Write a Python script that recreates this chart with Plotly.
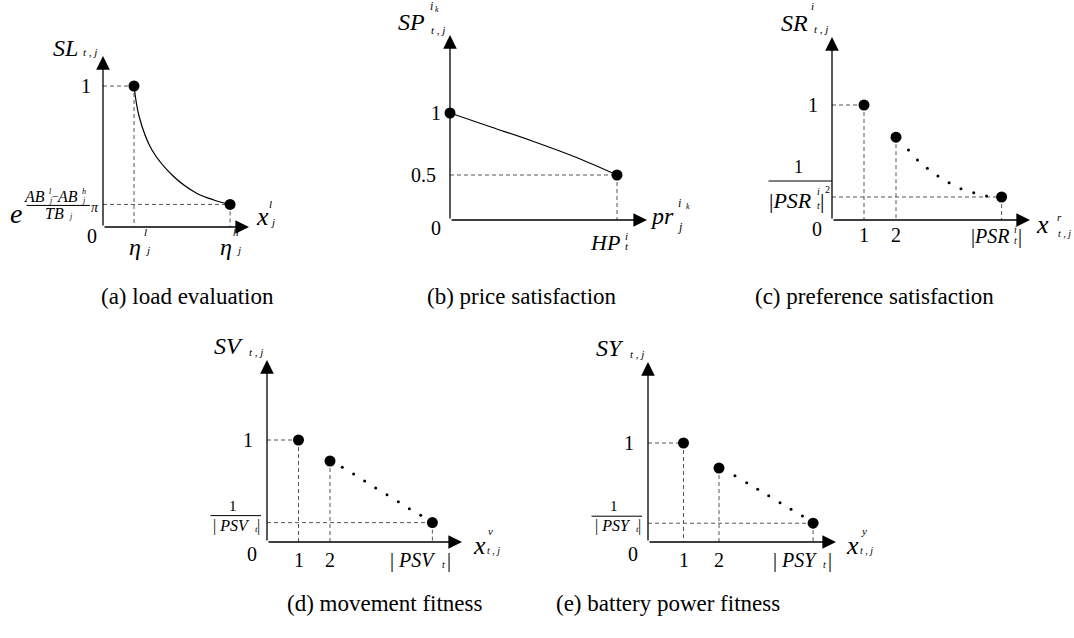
import plotly.graph_objects as go

W, H = 1074, 638
FONT = "'Liberation Serif', 'Times New Roman', Times, serif"

# ---------------- (a) load evaluation ----------------
load_eta = [1.0, 4.1]                       # eta_j^l , eta_j^h
load_sl = [1.0, 0.16]                       # SL at the two end points
load_curve_x = [1.0, 1.17, 1.57, 2.27, 3.02, 3.6, 4.1]
load_curve_y = [1.0, 0.78, 0.55, 0.36, 0.24, 0.19, 0.16]

# ---------------- (b) price satisfaction ----------------
price_pr = [0.0, 1.0]                       # 0 and HP_t^i
price_sp = [1.0, 0.5]
price_curve_x = [0.0, 0.25, 0.5, 0.75, 1.0]
price_curve_y = [1.0, 0.885, 0.77, 0.645, 0.5]
price_ytext = ["1", "0.5"]

# ---------------- (c) preference satisfaction ----------------
pref_x = [1, 2, 5.3]
pref_y = [1.0, 0.72, 0.2]
pref_dots_x = [2.39, 2.67, 2.98, 3.31, 3.66, 4.03, 4.43, 4.83]
pref_dots_y = [0.609, 0.522, 0.449, 0.383, 0.325, 0.272, 0.238, 0.209]

# ---------------- (d) movement fitness ----------------
move_x = [1, 2, 5.25]
move_y = [1.0, 0.794, 0.19]
move_dots_x = [2.39, 2.75, 3.10, 3.45, 3.81, 4.17, 4.52, 4.88]
move_dots_y = [0.732, 0.667, 0.598, 0.529, 0.464, 0.395, 0.326, 0.262]

# ---------------- (e) battery power fitness ----------------
batt_x = [1, 2, 4.65]
batt_y = [1.0, 0.747, 0.19]
batt_dots_x = [2.45, 2.78, 3.09, 3.40, 3.72, 4.03, 4.35]
batt_dots_y = [0.670, 0.599, 0.532, 0.468, 0.397, 0.330, 0.263]

tick_text = ["1", "2"]
captions = ["(a) load evaluation", "(b) price satisfaction", "(c) preference satisfaction",
            "(d) movement fitness", "(e) battery power fitness"]
caption_px = [(187, 296), (522, 296), (875, 296), (385, 603), (668, 603)]

# panel frames: origin / arrow tips in pixels and pixels per data unit
panels = {
    "a": dict(sfx="",  ox=103, oy=227, ex=249,  ty=56,  ux=31.0,  uy=141.0, y0=0.0),
    "b": dict(sfx="2", ox=450, oy=220, ex=647,  ty=35,  ux=167.0, uy=124.0, y0=0.137),
    "c": dict(sfx="3", ox=832, oy=220, ex=1030, ty=37,  ux=32.0,  uy=115.0, y0=0.0),
    "d": dict(sfx="4", ox=267, oy=542, ex=462,  ty=360, ux=31.5,  uy=102.0, y0=0.0),
    "e": dict(sfx="5", ox=648, oy=542, ex=836,  ty=362, ux=35.5,  uy=99.0,  y0=0.0),
}

fig = go.Figure()

for p in panels.values():
    s = p["sfx"]
    xr = [0, (p["ex"] - p["ox"]) / p["ux"]]
    yr = [p["y0"], p["y0"] + (p["oy"] - p["ty"]) / p["uy"]]
    fig.update_layout({
        "xaxis" + s: dict(domain=[p["ox"] / W, p["ex"] / W], range=xr, anchor="y" + s,
                          visible=False, fixedrange=True),
        "yaxis" + s: dict(domain=[1 - p["oy"] / H, 1 - p["ty"] / H], range=yr, anchor="x" + s,
                          visible=False, fixedrange=True),
    })
    # axes drawn as arrows from the origin
    common = dict(xref=f"x{s} domain", yref=f"y{s} domain", text="", showarrow=True,
                  arrowhead=2, arrowsize=2.1, arrowwidth=1.3, arrowcolor="black",
                  axref="pixel", ayref="pixel")
    fig.add_annotation(x=1, y=0, ax=-(p["ex"] - p["ox"]), ay=0, **common)
    fig.add_annotation(x=0, y=1, ax=0, ay=(p["oy"] - p["ty"]), **common)


def axes_of(key):
    s = panels[key]["sfx"]
    return dict(xaxis="x" + s, yaxis="y" + s)


def line(key, xs, ys, dash=None, width=1.2, color="black", shape="linear"):
    fig.add_trace(go.Scatter(x=xs, y=ys, mode="lines", cliponaxis=False, hoverinfo="skip",
                             line=dict(color=color, width=width, dash=dash, shape=shape),
                             showlegend=False, **axes_of(key)))


def dots(key, xs, ys, size=11):
    fig.add_trace(go.Scatter(x=xs, y=ys, mode="markers", cliponaxis=False, hoverinfo="skip",
                             marker=dict(color="black", size=size), showlegend=False,
                             **axes_of(key)))


def guides(key, xs, ys, horiz, vert):
    y0 = panels[key]["y0"]
    for x, y, h, v in zip(xs, ys, horiz, vert):
        if h:
            line(key, [0, x], [y, y], dash="4px,3px", width=1, color="#555")
        if v:
            line(key, [x, x], [y, y0], dash="4px,3px", width=1, color="#555")


def put(key, x, y, text, size, xs=0, ys=0, anchor="center", xd=False, yd=False):
    s = panels[key]["sfx"]
    fig.add_annotation(x=x, y=y, xref=f"x{s}" + (" domain" if xd else ""),
                       yref=f"y{s}" + (" domain" if yd else ""), text=text, showarrow=False,
                       font=dict(family=FONT, size=size, color="black"),
                       xanchor=anchor, yanchor="middle", xshift=xs, yshift=ys)


def bar(key, x, y, x0, x1, dy):
    """Fraction bar: a plain arrow-less annotation line offset in pixels from (x, y)."""
    s = panels[key]["sfx"]
    fig.add_annotation(x=x, y=y, xref="x" + s, yref="y" + s, text="", showarrow=True,
                       arrowhead=0, arrowwidth=1, arrowcolor="black",
                       ax=-(x1 - x0), ay=0, axref="pixel", ayref="pixel",
                       xshift=x1, yshift=dy)


# ---------------- (a) ----------------
guides("a", load_eta, load_sl, [True, True], [True, True])
line("a", load_curve_x, load_curve_y, shape="spline")
dots("a", load_eta, load_sl)
put("a", 0, 1, "<i>SL</i>", 24, -23, 8, "right", True, True)
put("a", 0, 1, "<i>t</i> , <i>j</i>", 11, -22, 4, "left", True, True)
put("a", 0, load_sl[0], "1", 20, -17, 0)
put("a", 0, 0, "0", 20, -11, -9)
for x, sup, dx in zip(load_eta, ["l", "h"], [1, -4]):
    put("a", x, 0, "<i>η</i>", 24, dx, -20)
    put("a", x, 0, f"<i>{sup}</i>", 11, dx + 10, -5)
    put("a", x, 0, "<i>j</i>", 11, dx + 12, -23)
put("a", 1, 0, "<i>x</i>", 26, 13, 11, "center", True, True)
put("a", 1, 0, "<i>l</i>", 11, 21, 23, "center", True, True)
put("a", 1, 0, "<i>j</i>", 11, 23, 5, "center", True, True)
# e^{(AB_j^l - AB_j^h)/TB_j * pi}
ylow = load_sl[1]
put("a", 0, ylow, "<i>e</i>", 28, -87, -9)
put("a", 0, ylow, "<i>AB</i>", 16, -56, 8, "right")
put("a", 0, ylow, "<i>l</i>", 8, -56, 13, "left")
put("a", 0, ylow, "<i>j</i>", 8, -56, 4, "left")
put("a", 0, ylow, "−", 12, -48, 8)
put("a", 0, ylow, "<i>AB</i>", 16, -23, 8, "right")
put("a", 0, ylow, "<i>h</i>", 8, -23, 13, "left")
put("a", 0, ylow, "<i>j</i>", 8, -23, 4, "left")
bar("a", 0, ylow, -78, -13, -1)
put("a", 0, ylow, "<i>TB</i>", 16, -37, -9, "right")
put("a", 0, ylow, "<i>j</i>", 8, -36, -12, "left")
put("a", 0, ylow, "<i>π</i>", 14, -8, -3)

# ---------------- (b) ----------------
guides("b", price_pr[1:], price_sp[1:], [True], [True])
line("b", price_curve_x, price_curve_y, shape="spline")
dots("b", price_pr, price_sp)
put("b", 0, 1, "<i>SP</i>", 24, -23, 13, "right", True, True)
put("b", 0, 1, "<i>i</i>", 12, -19, 29, "center", True, True)
put("b", 0, 1, "<i>k</i>", 8, -13, 26, "center", True, True)
put("b", 0, 1, "<i>t</i> , <i>j</i>", 11, -21, 5, "left", True, True)
put("b", 0, price_sp[0], price_ytext[0], 20, -14, 0)
put("b", 0, price_sp[1], price_ytext[1], 20, -27, 0)
put("b", 0, 0, "0", 20, -14, -8, "center", False, True)
put("b", price_pr[1], 0, "<i>HP</i>", 22, 5, -22, "right", False, True)
put("b", price_pr[1], 0, "<i>i</i>", 11, 6, -16, "left", False, True)
put("b", price_pr[1], 0, "<i>t</i>", 11, 6, -26, "left", False, True)
put("b", 1, 0, "<i>pr</i>", 24, 29, 4, "right", True, True)
put("b", 1, 0, "<i>i</i>", 12, 29, 17, "left", True, True)
put("b", 1, 0, "<i>k</i>", 8, 41, 14, "center", True, True)
put("b", 1, 0, "<i>j</i>", 12, 33, -7, "center", True, True)


# ---------------- (c), (d), (e): discrete scores ----------------
def discrete(key, xs, ys, dx, dy, name, tick_dy):
    guides(key, xs, ys, [True, False, True], [True, True, True])
    dots(key, dx, dy, size=3)
    dots(key, xs, ys)
    put(key, 0, 1, f"<i>{name}</i>", 24, -22, 14, "right", True, True)
    put(key, 0, 1, "<i>t</i> , <i>j</i>", 11, -20, 8, "left", True, True)
    put(key, 0, ys[0], "1", 20, -19, 0)
    for x, t in zip(xs[:2], tick_text):
        put(key, x, 0, t, 20, 0, tick_dy)
    put(key, 0, 0, "0", 20, -15, tick_dy + 6)


# (c)
discrete("c", pref_x, pref_y, pref_dots_x, pref_dots_y, "SR", -15)
put("c", 0, 1, "<i>i</i>", 11, -23, 31, "left", True, True)
yq = pref_y[2]
put("c", 0, yq, "1", 18, -34, 30)
bar("c", 0, yq, -65, 0, 16)
put("c", 0, yq, "|<i>PSR</i>", 22, -18, -3, "right")
put("c", 0, yq, "<i>i</i>", 10, -17, 6, "left")
put("c", 0, yq, "<i>t</i>", 10, -17, -8, "left")
put("c", 0, yq, "|", 22, -10, -3)
put("c", 0, yq, "2", 10, -5, 8)
put("c", pref_x[2], 0, "|<i>PSR</i>", 20, 9, -16, "right")
put("c", pref_x[2], 0, "<i>i</i>", 10, 10, -9, "left")
put("c", pref_x[2], 0, "<i>t</i>", 10, 10, -20, "left")
put("c", pref_x[2], 0, "|", 20, 18, -16)
put("c", 1, 0, "<i>x</i>", 26, 12, -4, "center", True, True)
put("c", 1, 0, "<i>r</i>", 11, 29, 3, "center", True, True)
put("c", 1, 0, "<i>t</i> , <i>j</i>", 10, 34, -13, "center", True, True)

# (d) and (e)
for key, xs, ys, dx, dy, name, sub, sup in [
        ("d", move_x, move_y, move_dots_x, move_dots_y, "SV", "PSV", "v"),
        ("e", batt_x, batt_y, batt_dots_x, batt_dots_y, "SY", "PSY", "y")]:
    discrete(key, xs, ys, dx, dy, name, -18)
    yl = ys[2]
    put(key, 0, yl, "1", 15, -34, 17)
    bar(key, 0, yl, -58, -6, 7)
    put(key, 0, yl, f"| <i>{sub}</i>", 16, -15, -3, "right")
    put(key, 0, yl, "<i>t</i>", 9, -14, -6, "left")
    put(key, 0, yl, "|", 16, -9, -3)
    put(key, xs[2], 0, f"| <i>{sub}</i>", 20, 6, -18, "right")
    put(key, xs[2], 0, "<i>t</i>", 10, 8, -22, "left")
    put(key, xs[2], 0, "|", 20, 17, -18)
    put(key, 1, 0, "<i>x</i>", 26, 17, -3, "center", True, True)
    put(key, 1, 0, f"<i>{sup}</i>", 11, 28, 11, "center", True, True)
    put(key, 1, 0, "<i>t</i> , <i>j</i>", 10, 31, -8, "center", True, True)

# captions under each panel
for text, (cx, cy) in zip(captions, caption_px):
    fig.add_annotation(x=cx / W, y=1 - cy / H, xref="paper", yref="paper", text=text,
                       showarrow=False, font=dict(family=FONT, size=23, color="black"),
                       xanchor="center", yanchor="middle")

fig.update_layout(width=W, height=H, margin=dict(l=0, r=0, t=0, b=0),
                  paper_bgcolor="white", plot_bgcolor="white", showlegend=False,
                  font=dict(family=FONT))

fig.write_html("out.html")
